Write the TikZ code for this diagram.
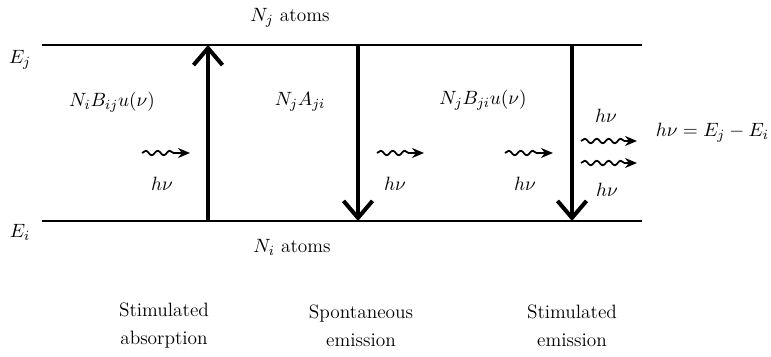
\documentclass[tikz,border=0pt]{standalone}
\usepackage{amsmath}
\usetikzlibrary{positioning,arrows.meta,decorations.pathmorphing}

\begin{document}
\begin{tikzpicture}[x=0.02cm, y=-0.02cm,
    every node/.style={font=\fontsize{11}{16}\selectfont, align=center},
    level/.style={line width=1.4pt},
    trans/.style={line width=2.3pt, -{Straight Barb[length=3.4mm, width=5.8mm]}},
    photon/.style={line width=1pt, decorate,
        decoration={snake, amplitude=0.45mm, segment length=2.4mm, post length=2.2mm},
        -{Stealth[length=2.4mm, width=2mm]}}]
    \useasboundingbox (0,0) rectangle (771,357);

    % niveaus
    \coordinate (topL) at (42,45);
    \coordinate (topR) at (642,45);
    \coordinate (botL) at (42,221);
    \coordinate (botR) at (642,221);
    \draw[level] (topL) -- (topR);
    \draw[level] (botL) -- (botR);
    \node (Ej) at (20,60) {$E_j$};
    \node (Ei) at (20,232) {$E_i$};
    \node (Nj) at (290,18) {$N_j$ atoms};
    \node (Ni) at (292,247) {$N_i$ atoms};

    % absorptie
    \coordinate (abs1) at (208,221);
    \coordinate (abs2) at (208,45);
    \draw[trans] (abs1) -- (abs2);
    \node (absrate) at (112,102) {$N_iB_{ij}u(\nu)$};
    \coordinate (absin1) at (142,153);
    \coordinate (absin2) at (190,153);
    \draw[photon] (absin1) -- (absin2);
    \node (abshv) at (162,184) {$h\nu$};

    % spontane emissie
    \coordinate (spo1) at (358,45);
    \coordinate (spo2) at (358,221);
    \draw[trans] (spo1) -- (spo2);
    \node (sporate) at (300,102) {$N_jA_{ji}$};
    \coordinate (spoout1) at (377,153);
    \coordinate (spoout2) at (424,153);
    \draw[photon] (spoout1) -- (spoout2);
    \node (spohv) at (395,184) {$h\nu$};

    % gestimuleerde emissie
    \coordinate (sti1) at (572,45);
    \coordinate (sti2) at (572,221);
    \draw[trans] (sti1) -- (sti2);
    \node (stirate) at (483,100) {$N_jB_{ji}u(\nu)$};
    \coordinate (stiin1) at (505,153);
    \coordinate (stiin2) at (553,153);
    \draw[photon] (stiin1) -- (stiin2);
    \node (stihv) at (525,184) {$h\nu$};
    \coordinate (stiouta1) at (581,141);
    \coordinate (stiouta2) at (637,141);
    \draw[photon] (stiouta1) -- (stiouta2);
    \coordinate (stioutb1) at (581,163);
    \coordinate (stioutb2) at (637,163);
    \draw[photon] (stioutb1) -- (stioutb2);
    \node (stihva) at (606,116) {$h\nu$};
    \node (stihvb) at (607,190) {$h\nu$};

    \node[anchor=east, inner sep=1pt] (energy) at (771,133) {$h\nu = E_j - E_i$};

    % onderschriften
    \node (capabs) at (164,326) {Stimulated\\absorption};
    \node (capspo) at (361,326) {Spontaneous\\emission};
    \node (capsti) at (572,326) {Stimulated\\emission};
\end{tikzpicture}
\end{document}
